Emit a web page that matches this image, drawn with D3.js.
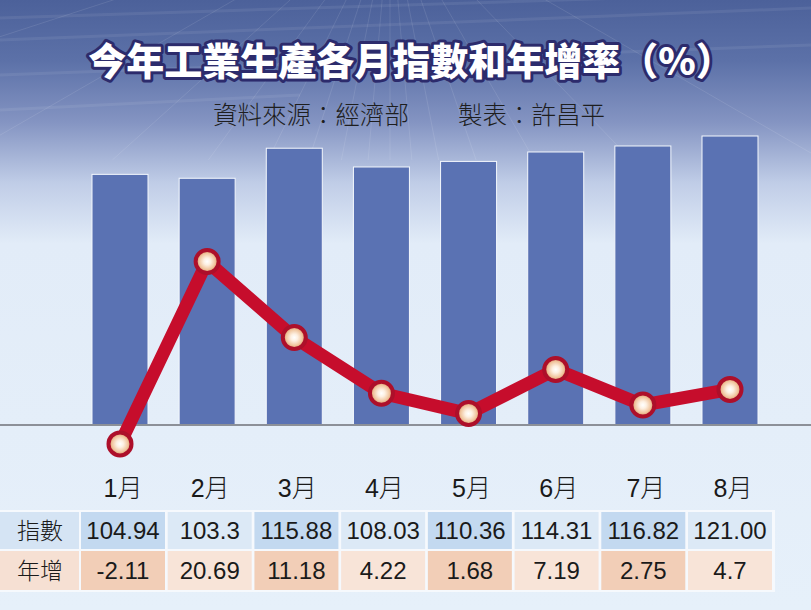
<!DOCTYPE html>
<html><head><meta charset="utf-8">
<script src="https://cdn.jsdelivr.net/npm/d3@7"></script>
<style>html,body{margin:0;padding:0;background:#e6f0fa;}svg{display:block;}</style>
</head><body>
<script>
const months = ["1月","2月","3月","4月","5月","6月","7月","8月"];
const indexValues = [104.94, 103.3, 115.88, 108.03, 110.36, 114.31, 116.82, 121.00];
const indexLabels = ["104.94","103.3","115.88","108.03","110.36","114.31","116.82","121.00"];
const growthValues = [-2.11, 20.69, 11.18, 4.22, 1.68, 7.19, 2.75, 4.7];
const growthLabels = ["-2.11","20.69","11.18","4.22","1.68","7.19","2.75","4.7"];
const rowNames = ["指數","年增"];
const title = "今年工業生產各月指數和年增率（%）";
const subtitle = "資料來源：經濟部　　製表：許昌平";

const W = 811, H = 610;
const svg = d3.select("body").append("svg").attr("width", W).attr("height", H);
const defs = svg.append("defs");

// background gradient
const bg = defs.append("linearGradient").attr("id","bg").attr("x1",0).attr("y1",0).attr("x2",0).attr("y2",1);
[[0,"#4c619a"],[0.1,"#5c71a8"],[0.2,"#8494c2"],[0.3,"#c0cde7"],[0.4,"#e2ecf8"],[1,"#e6f0fa"]]
  .forEach(([o,c])=>bg.append("stop").attr("offset",o).attr("stop-color",c));
svg.append("rect").attr("width",W).attr("height",H).attr("fill","url(#bg)");

// faint texture lines (building perspective)
const tex = svg.append("g").attr("stroke","#ffffff").attr("stroke-width",1);
const texAngles = [-72,-60,-48,-36,-26,-18,-11,-5,0,5,11,19,30,44,60];
texAngles.forEach(a=>{
  const r = Math.PI*a/180;
  tex.append("line").attr("x1",390).attr("y1",-90).attr("x2",390+Math.tan(r)*250).attr("y2",160)
    .attr("stroke-opacity",0.1);
});
[[0,40,811,8],[0,75,811,45],[0,18,811,-8],[0,110,300,95]].forEach(d=>{
  tex.append("line").attr("x1",d[0]).attr("y1",d[1]).attr("x2",d[2]).attr("y2",d[3])
   .attr("stroke-opacity",0.07).attr("stroke-width",3);
});

// title
svg.append("text").attr("x",411).attr("y",75).attr("text-anchor","middle")
  .attr("font-family","'Noto Sans CJK TC','Noto Sans CJK SC',sans-serif").attr("font-weight",900)
  .attr("font-size",38).attr("fill","#ffffff").attr("stroke","#2c2b6c").attr("stroke-width",6)
  .attr("stroke-linejoin","round").attr("paint-order","stroke")
  .text(title);
svg.append("text").attr("x",409).attr("y",124).attr("text-anchor","middle")
  .attr("font-family","'Noto Sans CJK TC',sans-serif").attr("font-weight",300)
  .attr("font-size",24.5).attr("fill","#1e1e1e").text(subtitle);

// scales
const x = d3.scalePoint().domain(months).range([120,730]);
const yBar = d3.scaleLinear().domain([0,121]).range([425,136]);
const yLine = d3.scaleLinear().domain([0,20]).range([427,267]);
const barW = 56;

// bars
svg.append("g").selectAll("rect").data(months).join("rect")
  .attr("x",d=>x(d)-barW/2).attr("width",barW)
  .attr("y",(d,i)=>yBar(indexValues[i])).attr("height",(d,i)=>yBar(0)-yBar(indexValues[i]))
  .attr("fill","#5a72b3").attr("stroke","#f4f8fd").attr("stroke-width",1);

// baseline
svg.append("line").attr("x1",0).attr("x2",W).attr("y1",yBar(0)).attr("y2",yBar(0))
  .attr("stroke","#8c9098").attr("stroke-width",2);

// line
const line = d3.line().x((d,i)=>x(months[i])).y(d=>yLine(d));
svg.append("path").datum(growthValues).attr("d",line).attr("fill","none")
  .attr("stroke","#c60d2c").attr("stroke-width",13).attr("stroke-linejoin","round");

const rg = defs.append("radialGradient").attr("id","mk").attr("cx","50%").attr("cy","50%").attr("r","50%");
[[0,"#ffffff"],[0.3,"#fdf0e2"],[0.7,"#f0c49c"],[1,"#d4845a"]]
  .forEach(([o,c])=>rg.append("stop").attr("offset",o).attr("stop-color",c));
svg.append("g").selectAll("circle").data(growthValues).join("circle")
  .attr("cx",(d,i)=>x(months[i])).attr("cy",d=>yLine(d)).attr("r",11.5)
  .attr("fill","url(#mk)").attr("stroke","#ad0f2a").attr("stroke-width",4);

// month labels
svg.append("g").selectAll("text").data(months).join("text")
  .attr("x",d=>x(d)+3).attr("y",497).attr("text-anchor","middle")
  .attr("font-family","'Liberation Sans','Noto Sans CJK TC',sans-serif").attr("font-size",25)
  .attr("font-weight",300).attr("fill","#1a1a1a").text(d=>d);

// table
const xt = d3.scalePoint().domain(months).range([123,730]);
const cellW = 84;
const rows = [
  {y:512,h:37,labels:indexLabels,lab:"#d5e4f4",odd:"#c3d9f0",even:"#dce9f6"},
  {y:551,h:39,labels:growthLabels,lab:"#f6e0d3",odd:"#f2ceb7",even:"#f8e4d8"}
];
svg.append("rect").attr("x",0).attr("y",510).attr("width",775).attr("height",82).attr("fill","#f6f9fd");
const tg = svg.append("g");
rows.forEach((r,ri)=>{
  tg.append("rect").attr("x",0).attr("y",r.y).attr("width",79).attr("height",r.h).attr("fill",r.lab);
  tg.append("text").attr("x",40).attr("y",r.y+r.h/2+8).attr("text-anchor","middle")
    .attr("font-family","'Noto Sans CJK TC',sans-serif").attr("font-weight",300).attr("font-size",23)
    .attr("fill","#1a1a1a").text(rowNames[ri]);
  months.forEach((m,i)=>{
    tg.append("rect").attr("x",xt(m)-cellW/2).attr("y",r.y).attr("width",cellW).attr("height",r.h)
      .attr("fill", i%2===0 ? r.odd : r.even);
    tg.append("text").attr("x",xt(m)).attr("y",r.y+r.h/2+8.5).attr("text-anchor","middle")
      .attr("font-family","'Liberation Sans',sans-serif").attr("font-size",24)
      .attr("fill","#1a1a1a").text(r.labels[i]);
  });
});
</script>
</body></html>
